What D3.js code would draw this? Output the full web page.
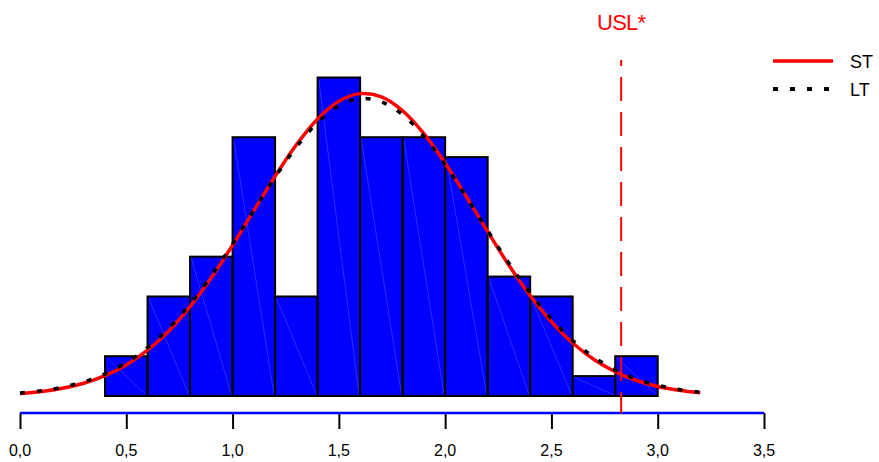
<!DOCTYPE html>
<html>
<head>
<meta charset="utf-8">
<script src="https://cdn.jsdelivr.net/npm/d3@7"></script>
<style>
  html, body { margin: 0; padding: 0; background: #fff; }
  svg { display: block; font-family: "Liberation Sans", Arial, sans-serif; }
  .tick-label { font-size: 16px; fill: #000; }
</style>
</head>
<body>
<svg id="chart" width="879" height="462"></svg>
<script>
// Histogram bins (lower edges) and counts
const binStarts = [0.4, 0.6, 0.8, 1.0, 1.2, 1.4, 1.6, 1.8, 2.0, 2.2, 2.4, 2.6, 2.8];
const binWidth = 0.2;
const counts = [2, 5, 7, 13, 5, 16, 13, 13, 12, 6, 5, 1, 2];

// Fitted curves (short-term and long-term), in count units
const curveX = [0.0, 0.1, 0.2, 0.3, 0.4, 0.5, 0.6, 0.7, 0.8, 0.9, 1.0, 1.1, 1.2, 1.3, 1.4, 1.5, 1.6,
                1.7, 1.8, 1.9, 2.0, 2.1, 2.2, 2.3, 2.4, 2.5, 2.6, 2.7, 2.8, 2.9, 3.0, 3.1, 3.2];
const stValues = [0.13, 0.23, 0.39, 0.64, 1.02, 1.56, 2.30, 3.27, 4.49, 5.94, 7.57, 9.31, 11.04, 12.62,
                  13.92, 14.81, 15.19, 15.03, 14.33, 13.18, 11.70, 10.01, 8.26, 6.57, 5.04, 3.73, 2.66,
                  1.83, 1.22, 0.78, 0.48, 0.29, 0.16];
const ltValues = [0.15, 0.26, 0.44, 0.71, 1.11, 1.67, 2.43, 3.41, 4.62, 6.04, 7.64, 9.32, 10.99, 12.50,
                  13.74, 14.58, 14.94, 14.78, 14.13, 13.04, 11.62, 10.00, 8.31, 6.67, 5.17, 3.87, 2.79,
                  1.95, 1.31, 0.85, 0.54, 0.33, 0.19];

// Specification limit
const uslValue = 2.828;
const uslLabel = "USL*";

// Axis ticks
const xTicks = [0, 0.5, 1.0, 1.5, 2.0, 2.5, 3.0, 3.5];

const svg = d3.select("#chart");

const x = d3.scaleLinear().domain([0, 3.5]).range([20, 764]);
const y = d3.scaleLinear().domain([0, 16]).range([396, 77.5]);

const fmt = d => d3.format(".1f")(d).replace(".", ",");

// Bars
const bars = binStarts.map((s, i) => ({ x0: s, x1: s + binWidth, n: counts[i] }));
const barG = svg.append("g");
barG.selectAll("rect").data(bars).join("rect")
  .attr("x", d => x(d.x0))
  .attr("y", d => y(d.n))
  .attr("width", d => x(d.x1) - x(d.x0))
  .attr("height", d => y(0) - y(d.n))
  .attr("fill", "#0000ff")
  .attr("stroke", "none");
// faint diagonal seams inside each bar
barG.selectAll("line.seam").data(bars).join("line")
  .attr("class", "seam")
  .attr("x1", d => x(d.x0) + 1).attr("y1", d => y(d.n) + 1)
  .attr("x2", d => x(d.x1) - 1).attr("y2", d => y(0) - 1)
  .attr("stroke", "#8fa0ff").attr("stroke-width", 0.6).attr("opacity", 0.5);
barG.selectAll("rect.outline").data(bars).join("rect")
  .attr("class", "outline")
  .attr("x", d => x(d.x0))
  .attr("y", d => y(d.n))
  .attr("width", d => x(d.x1) - x(d.x0))
  .attr("height", d => y(0) - y(d.n))
  .attr("fill", "none")
  .attr("stroke", "#000")
  .attr("stroke-width", 2);

// X axis: ticks from the axis generator, labels placed from the same scale
const axisY = 413;
const axisG = svg.append("g").attr("transform", `translate(0,${axisY})`);
const xAxis = d3.axisBottom(x).tickValues(xTicks).tickFormat(() => "").tickSize(16);
axisG.call(xAxis);
axisG.select(".domain").remove();
axisG.selectAll(".tick line").attr("stroke", "#000").attr("stroke-width", 2);
axisG.append("line")
  .attr("x1", x(0)).attr("x2", x(3.5))
  .attr("y1", 0).attr("y2", 0)
  .attr("stroke", "#0000ff").attr("stroke-width", 2.5);

svg.append("g").selectAll("text").data(xTicks).join("text")
  .attr("class", "tick-label")
  .attr("x", d => x(d))
  .attr("y", 456)
  .attr("text-anchor", "middle")
  .attr("font-size", 16)
  .text(fmt);

// USL
svg.append("line")
  .attr("x1", x(uslValue)).attr("x2", x(uslValue))
  .attr("y1", 60).attr("y2", axisY)
  .attr("stroke", "#ff0000").attr("stroke-width", 2)
  .attr("stroke-dasharray", "6,11,24,11,24,11,24,11,24,11,24,11,24,11,24,11,24,11,24,11,24,11,24,11,24,11");
svg.append("text")
  .attr("x", x(uslValue)).attr("y", 30)
  .attr("text-anchor", "middle")
  .attr("fill", "#ff0000")
  .style("font-size", "22px")
  .style("letter-spacing", "-0.8px")
  .text(uslLabel);

// Curves
const line = d3.line()
  .x((d, i) => x(curveX[i]))
  .y(d => y(d))
  .curve(d3.curveCatmullRom);

svg.append("path")
  .datum(stValues)
  .attr("d", line)
  .attr("fill", "none")
  .attr("stroke", "#ff0000")
  .attr("stroke-width", 3.5);

svg.append("path")
  .datum(ltValues)
  .attr("d", line)
  .attr("fill", "none")
  .attr("stroke", "#000")
  .attr("stroke-width", 3.5)
  .attr("stroke-dasharray", "5,12");

// Legend
const legend = [
  { label: "ST", color: "#ff0000", dash: null, y: 61 },
  { label: "LT", color: "#000", dash: "5,12", y: 89 }
];
const lg = svg.append("g");
legend.forEach(item => {
  lg.append("line")
    .attr("x1", 773).attr("x2", 833)
    .attr("y1", item.y).attr("y2", item.y)
    .attr("stroke", item.color)
    .attr("stroke-width", item.dash ? 4 : 3.5)
    .attr("stroke-dasharray", item.dash);
  lg.append("text")
    .attr("x", 850).attr("y", item.y + 7)
    .attr("fill", "#000")
    .style("font-size", "18px")
    .text(item.label);
});
</script>
</body>
</html>
